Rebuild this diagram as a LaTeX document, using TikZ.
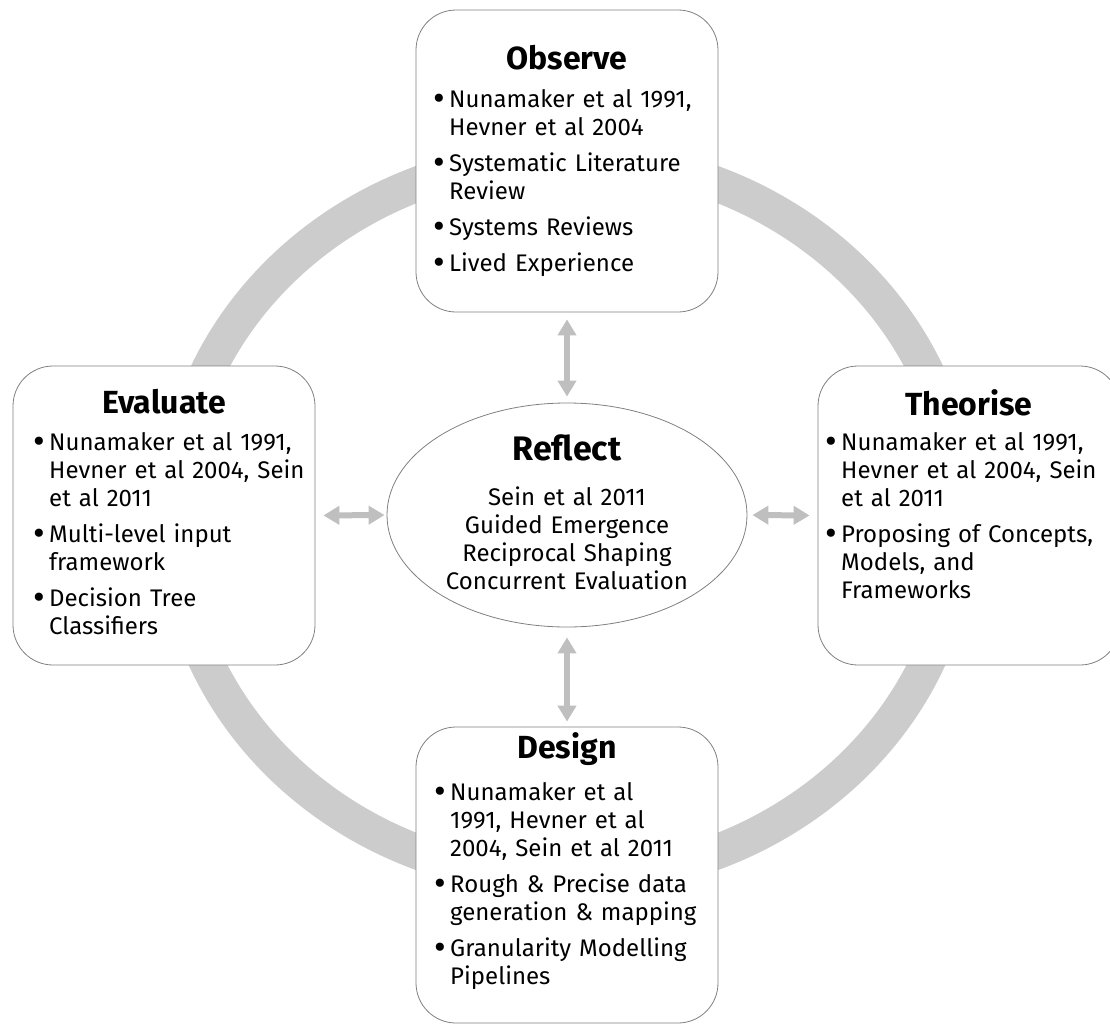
\documentclass[tikz,border=0pt]{standalone}
\usepackage{fontspec}
\setmainfont{Fira Sans}
\usetikzlibrary{arrows.meta, shapes.geometric}

\tikzset{
    ring/.style={draw=black!20, line width=35pt},
    phase/.style={draw=black!50, fill=white, line width=0.8pt, rounded corners=40pt},
    reflectbox/.style={ellipse, draw=black!50, fill=white, line width=0.8pt, minimum width=360pt, minimum height=224pt},
    link/.style={draw=black!25, line width=6pt, {Triangle[width=18pt,length=16pt]}-{Triangle[width=18pt,length=16pt]}},
    heading/.style={anchor=base, inner sep=0pt, font=\fontsize{32}{36}\selectfont\bfseries},
    points/.style={anchor=base west, inner sep=0pt, text width=300pt, align=left, font=\fontsize{24}{28}\selectfont,
        execute at begin node={\setlength{\parskip}{8pt}}},
    lines/.style={anchor=base, inner sep=0pt, text width=340pt, align=center, font=\fontsize{24}{28}\selectfont},
}

\newcommand{\bpoint}[1]{\leavevmode\hangindent=16pt\hangafter=1\makebox[16pt][l]{\raisebox{-3pt}{\fontsize{36}{28}\selectfont\textbullet}}#1\par}

\begin{document}
\begin{tikzpicture}[x=1pt, y=-1pt]

    \useasboundingbox (0,0) rectangle (1110,1025);

    \draw[ring] (567,518) ellipse [x radius=393, y radius=361];

    \node[phase, minimum width=302pt, minimum height=302pt] (Observe) at (567,161) {};
    \node[phase, minimum width=302pt, minimum height=299pt] (Evaluate) at (164,515.5) {};
    \node[phase, minimum width=302pt, minimum height=299pt] (Theorise) at (969,515.5) {};
    \node[phase, minimum width=302pt, minimum height=296pt] (Design) at (567,875) {};
    \node[reflectbox] (Reflect) at (567,515) {};

    \node[heading] (ObserveTitle) at (567,70) {Observe};
    \node[points] (ObserveList) at (433,107) {%
        \bpoint{Nunamaker et al 1991,\newline Hevner et al 2004}%
        \bpoint{Systematic Literature\newline Review}%
        \bpoint{Systems Reviews}%
        \bpoint{Lived Experience}};

    \node[heading] (EvaluateTitle) at (164,413) {Evaluate};
    \node[points] (EvaluateList) at (33,450) {%
        \bpoint{Nunamaker et al 1991,\newline Hevner et al 2004, Sein\newline et al 2011}%
        \bpoint{Multi-level input\newline framework}%
        \bpoint{Decision Tree\newline Classifiers}};

    \node[heading] (TheoriseTitle) at (969,415) {Theorise};
    \node[points] (TheoriseList) at (825,450) {%
        \bpoint{Nunamaker et al 1991,\newline Hevner et al 2004, Sein\newline et al 2011}%
        \bpoint{Proposing of Concepts,\newline Models, and\newline Frameworks}};

    \node[heading] (DesignTitle) at (567,758) {Design};
    \node[points] (DesignList) at (434,800) {%
        \bpoint{Nunamaker et al\newline 1991, Hevner et al\newline 2004, Sein et al 2011}%
        \bpoint{Rough \& Precise data\newline generation \& mapping}%
        \bpoint{Granularity Modelling\newline Pipelines}};

    \node[heading, font=\fontsize{34}{38}\selectfont\bfseries] (ReflectTitle) at (567,460) {Reflect};
    \node[lines] (ReflectList) at (567,505) {Sein et al 2011\\ Guided Emergence\\ Reciprocal Shaping\\ Concurrent Evaluation};

    \draw[link, shorten <=7pt, shorten >=6pt] (Observe.south) -- (Reflect.north);
    \draw[link, shorten <=10pt, shorten >=5pt] (Reflect.south) -- (Design.north);
    \draw[link, shorten <=8pt, shorten >=2pt] (Evaluate.east) -- (Reflect.west);
    \draw[link, shorten <=5pt, shorten >=8pt] (Reflect.east) -- (Theorise.west);

\end{tikzpicture}
\end{document}
